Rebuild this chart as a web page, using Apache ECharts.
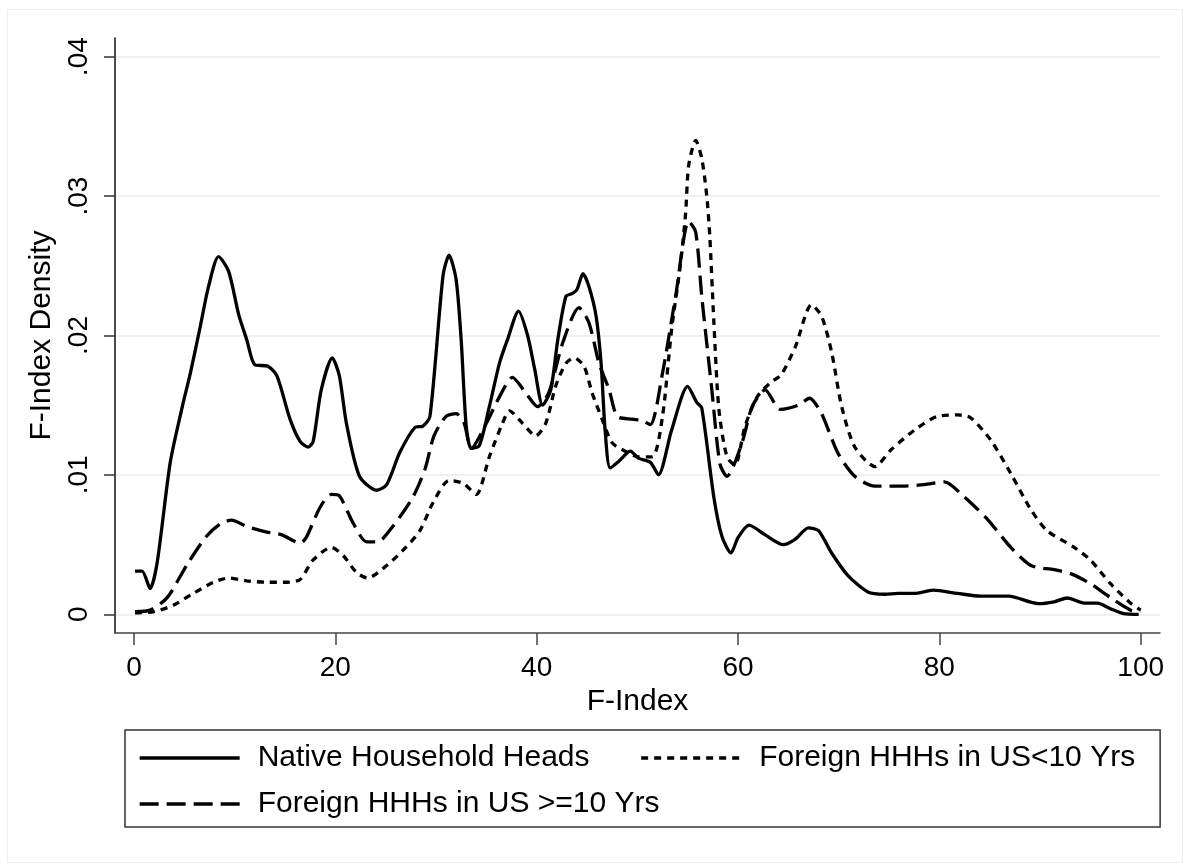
<!DOCTYPE html>
<html>
<head>
<meta charset="utf-8">
<script src="https://cdn.jsdelivr.net/npm/echarts@6/dist/echarts.min.js"></script>
<style>
html,body{margin:0;padding:0;background:#fff;}
#chart{width:1185px;height:867px;}
</style>
</head>
<body>
<div id="chart"></div>
<script>
var seriesNames = ['Native Household Heads', 'Foreign HHHs in US<10 Yrs', 'Foreign HHHs in US >=10 Yrs'];
var xTicks = [0, 20, 40, 60, 80, 100];
var yTicks = [0, 0.01, 0.02, 0.03, 0.04];

var nativeHeads = [
 [0.1,.0031],[0.8,.0031],[1.6,.00185],[2.3,.0037],[3.6,.0109],[4.8,.0149],[5.6,.0173],[6.6,.0207],[7.4,.0235],[8.4,.02566],
 [9.4,.0246],[10.4,.0215],[11.2,.0197],[12.0,.0179],[13.3,.0178],[14.2,.0171],[15.5,.0140],[16.5,.0124],[17.3,.0120],[17.8,.0124],
 [18.6,.0161],[19.7,.0184],[20.4,.0171],[21.1,.0137],[22.4,.0099],[24.1,.0089],[25.1,.0093],[26.4,.0116],[27.9,.0134],[28.7,.0135],
 [29.4,.0142],[30.7,.0243],[31.3,.02576],[32.0,.0240],[32.5,.0197],[33.0,.0135],[33.5,.0119],[34.3,.0121],[35.3,.0149],[36.3,.0180],
 [37.1,.0197],[38.2,.02175],[39.1,.0200],[39.8,.0176],[40.6,.0150],[41.4,.0161],[42.1,.0197],[42.9,.0228],[43.5,.0230],[44.0,.0233],
 [44.6,.02444],[45.2,.0235],[45.9,.0214],[46.4,.0180],[46.8,.0132],[47.3,.0105],[48.2,.0110],[49.3,.0117],[50.1,.0112],[51.3,.0109],
 [52.1,.0100],[53.4,.0132],[55.0,.01635],[55.9,.0152],[56.4,.0148],[57.6,.0084],[58.4,.0056],[59.3,.0044],[60.0,.0055],[61.1,.0064],
 [62.7,.0057],[64.5,.0050],[65.7,.0054],[67.0,.0062],[68.0,.0060],[69.3,.0044],[70.9,.0028],[72.9,.0016],[74.6,.00144],[75.9,.0015],
 [77.5,.0015],[79.4,.00173],[81.8,.0015],[84.1,.0013],[86.9,.0013],[89.8,.00077],[91.4,.0009],[92.7,.00117],[94.4,.0008],[95.7,.0008],
 [97.0,.0004],[98.3,.00005],[99.8,0.0]
];

var foreignLt10 = [
 [0.1,.0001],[2.0,.0002],[3.9,.00065],[5.9,.0015],[7.9,.0023],[9.4,.0026],[11.2,.0024],[13.2,.0023],[15.2,.0023],[16.5,.0025],
 [17.8,.0039],[19.6,.0048],[20.8,.0042],[22.1,.0030],[23.2,.0026],[25.1,.0035],[27.0,.0048],[28.4,.0060],[29.7,.0080],[31.3,.0096],
 [32.7,.0094],[34.0,.0086],[35.3,.0113],[36.6,.0137],[37.3,.0146],[38.6,.0137],[39.9,.0128],[40.9,.0137],[41.9,.0164],[42.9,.0180],
 [43.7,.0184],[44.7,.0178],[45.5,.0159],[46.5,.0140],[47.5,.0123],[48.8,.0117],[50.1,.0113],[51.5,.0113],[52.5,.0142],[53.4,.0204],
 [54.3,.0252],[54.8,.0288],[55.1,.0322],[55.8,.0340],[56.4,.0327],[56.9,.0300],[57.2,.0271],[57.6,.0210],[58.1,.0147],[58.9,.0113],
 [59.7,.0107],[60.7,.0135],[61.9,.0156],[63.2,.0166],[64.3,.0172],[65.7,.0192],[67.3,.0222],[68.3,.0214],[69.3,.0188],[70.3,.0149],
 [71.6,.0120],[73.6,.0106],[75.2,.0118],[77.5,.0132],[79.8,.0142],[81.8,.0143],[83.1,.0141],[85.1,.0125],[87.1,.0101],[89.1,.0075],
 [90.7,.0060],[93.4,.0048],[95.0,.0039],[97.0,.0022],[99.0,.0008],[100,.0003]
];

var foreignGe10 = [
 [0.1,.0002],[1.6,.0003],[3.3,.0012],[5.3,.0036],[7.2,.0056],[8.6,.0065],[9.7,.00676],[11.2,.0063],[13.2,.0059],[14.7,.0057],
 [16.5,.0051],[17.1,.0055],[18.5,.0077],[19.6,.0086],[20.4,.0085],[21.8,.0065],[23.1,.0052],[24.2,.0052],[25.7,.0063],[27.7,.0084],
 [28.9,.0104],[29.8,.0128],[31.0,.0142],[32.0,.0144],[32.8,.0137],[33.5,.0119],[35.0,.0137],[36.3,.0156],[37.6,.0170],[38.9,.0159],
 [40.1,.0149],[41.2,.0159],[42.6,.0195],[44.2,.0220],[45.2,.0209],[46.2,.0180],[47.2,.0161],[48.0,.0142],[49.5,.0140],[50.5,.0139],
 [51.3,.0136],[52.5,.0173],[53.8,.0228],[55.1,.0282],[55.8,.0274],[56.4,.0228],[57.4,.0161],[58.2,.0108],[58.9,.0099],[60.4,.0123],
 [61.4,.0149],[62.7,.0161],[64.2,.0147],[66.0,.0150],[67.1,.0155],[68.3,.0144],[69.9,.0116],[71.6,.0099],[73.6,.0092],[76.5,.0092],
 [78.5,.0093],[80.5,.0095],[82.5,.0084],[84.8,.0068],[87.1,.0048],[89.1,.0035],[91.4,.0032],[93.1,.0029],[95.0,.0022],[97.0,.0012],
 [99.0,.0003],[100,.0002]
];

var FONT = '"Liberation Sans", Arial, sans-serif';
var chart = echarts.init(document.getElementById('chart'), null, {renderer: 'canvas'});

function mkSeries(name, data, dash) {
  return {
    name: name, type: 'line', data: data, smooth: 0.25,
    symbol: 'none', showSymbol: false, animation: false,
    lineStyle: {color: '#000', width: 3.3, type: dash},
    itemStyle: {color: '#000'}
  };
}

chart.setOption({
  backgroundColor: '#fff',
  animation: false,
  textStyle: {fontFamily: FONT},
  graphic: [{
    type: 'rect', left: 5, top: 7, silent: true,
    shape: {width: 1175, height: 853},
    style: {fill: 'none', stroke: '#eef0f0', lineWidth: 1}
  }],
  grid: {left: 115, right: 25, top: 38, bottom: 234, containLabel: false},
  xAxis: {
    type: 'value', min: -1.887, max: 101.92,
    name: 'F-Index', nameLocation: 'middle', nameGap: 49,
    nameTextStyle: {fontSize: 30, color: '#000', fontFamily: FONT},
    axisLine: {show: true, onZero: false, lineStyle: {color: '#444', width: 1.5}},
    axisTick: {show: true, length: 12, customValues: xTicks, lineStyle: {color: '#444', width: 1.5}},
    axisLabel: {customValues: xTicks, fontSize: 28, margin: 21, color: '#000', fontFamily: FONT},
    splitLine: {show: false}
  },
  yAxis: {
    type: 'value', min: -0.00134, max: 0.04134,
    name: 'F-Index Density', nameLocation: 'middle', nameGap: 41,
    nameTextStyle: {fontSize: 30, color: '#000', fontFamily: FONT},
    axisLine: {show: true, onZero: false, lineStyle: {color: '#111', width: 1.5}},
    axisTick: {show: true, length: 11, customValues: yTicks, lineStyle: {color: '#333', width: 1.5}},
    axisLabel: {
      customValues: yTicks, rotate: 90, fontSize: 28, margin: 22, color: '#000', fontFamily: FONT,
      formatter: function (v) { return v === 0 ? '0' : String(+v.toFixed(4)).replace(/^0/, ''); }
    },
    splitLine: {show: true, lineStyle: {color: '#EAF2F3', width: 2}}
  },
  legend: {
    left: 125, top: 730, width: 1060, orient: 'horizontal',
    padding: [13, 25, 8, 13], itemGap: 16, itemWidth: 100, itemHeight: 14,
    borderColor: '#333', borderWidth: 1.5, backgroundColor: '#fff',
    itemStyle: {color: 'rgba(0,0,0,0)', borderColor: 'rgba(0,0,0,0)', borderWidth: 0, opacity: 0},
    lineStyle: {width: 3.3},
    textStyle: {fontSize: 30, color: '#000', fontFamily: FONT, lineHeight: 30, padding: [0, 0, 0, 13]},
    data: [
      {name: seriesNames[0], textStyle: {padding: [0, 34, 0, 13]}},
      {name: seriesNames[1]},
      {name: seriesNames[2]}
    ]
  },
  series: [
    mkSeries(seriesNames[0], nativeHeads, 'solid'),
    mkSeries(seriesNames[1], foreignLt10, [7, 6]),
    mkSeries(seriesNames[2], foreignGe10, [19, 8])
  ]
});
</script>
</body>
</html>
